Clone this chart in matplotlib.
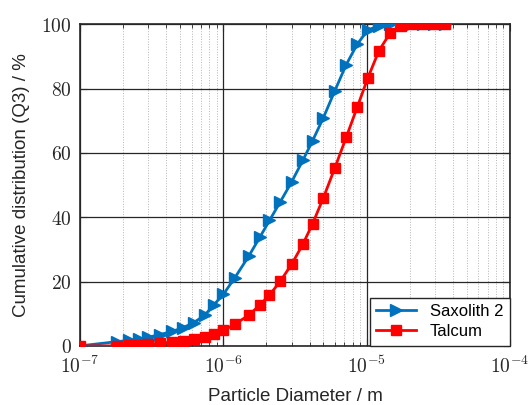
import numpy as np
import matplotlib
matplotlib.use("Agg")
import matplotlib.pyplot as plt
from matplotlib.ticker import LogLocator, FixedLocator, NullFormatter

# particle size classes (µm) and cumulative distribution Q3 (%)
diam_um = [0.10, 0.18, 0.22, 0.26, 0.30, 0.36, 0.44, 0.52, 0.62, 0.74, 0.86,
           1.00, 1.20, 1.50, 1.80, 2.10, 2.50, 3.00, 3.60, 4.20, 5.00, 6.00,
           7.20, 8.60, 10.2, 12.2, 14.6, 17.4, 20.6, 24.6, 29.4, 35.0]
saxolith = [0.0, 1.3, 1.7, 2.1, 2.7, 3.5, 4.5, 5.6, 7.2, 9.5, 12.8,
            16.0, 21.1, 27.8, 33.8, 39.0, 44.8, 51.0, 57.8, 63.8, 71.0, 79.3,
            87.4, 93.8, 98.2, 99.6, 100, 100, 100, 100, 100, 100]
talcum = [0.0, 0.0, 0.2, 0.3, 0.5, 0.8, 1.2, 1.6, 2.1, 2.8, 3.8,
          4.8, 6.7, 9.5, 12.7, 15.8, 20.1, 25.4, 31.7, 38.0, 46.1, 55.3,
          64.8, 74.2, 83.3, 91.8, 97.3, 99.6, 100, 100, 100, 100]
x_ticks = [1e-7, 1e-6, 1e-5, 1e-4]
x_ticklabels = [r"$10^{-7}$", r"$10^{-6}$", r"$10^{-5}$", r"$10^{-4}$"]
y_ticks = [0, 20, 40, 60, 80, 100]

plt.rcParams["mathtext.fontset"] = "cm"
d = np.array(diam_um) * 1e-6

fig = plt.figure(figsize=(5.3, 4.05), dpi=100)
ax = fig.add_axes([0.151, 0.146, 0.811, 0.794])

ax.plot(d, saxolith, color="#0072BD", lw=2, marker=">", ms=9, label="Saxolith 2", zorder=3)
ax.plot(d, talcum, color="#FF0000", lw=2, marker="s", ms=6.5, label="Talcum", zorder=4)

ax.set_xscale("log")
ax.set_xlim(1e-7, 1e-4)
ax.set_ylim(0, 100)
ax.xaxis.set_major_locator(FixedLocator(x_ticks))
ax.set_xticklabels(x_ticklabels)
ax.xaxis.set_minor_locator(LogLocator(base=10, subs=np.arange(2, 10), numticks=20))
ax.xaxis.set_minor_formatter(NullFormatter())
ax.set_yticks(y_ticks)
ax.set_yticklabels([r"$%d$" % v for v in y_ticks])

ax.tick_params(which="both", direction="in", top=True, right=True, labelsize=14,
               colors="#262626")
ax.tick_params(which="major", length=5)
ax.tick_params(which="minor", length=3)
ax.tick_params(axis="x", which="major", pad=7)
ax.tick_params(axis="y", which="major", pad=6)

ax.grid(True, which="major", color="#262626", lw=0.9)
ax.grid(True, which="minor", axis="x", color="#b5b5b5", lw=0.7, ls=":")
for s in ax.spines.values():
    s.set_color("#262626")
    s.set_linewidth(1.2)

ax.set_xlabel("Particle Diameter / m", fontsize=13.5, family="Liberation Sans",
              color="#262626", labelpad=8)
ax.set_ylabel("Cumulative distribution (Q3) / %", fontsize=13.5, family="Liberation Sans",
              color="#262626", labelpad=8)

leg = ax.legend(loc="lower right", prop={"family": "Liberation Sans", "size": 12},
                fancybox=False, edgecolor="#262626", framealpha=1, borderaxespad=0.0,
                handlelength=2.4, borderpad=0.4, labelspacing=0.3)
leg.get_frame().set_linewidth(1.0)

fig.savefig("out.png", dpi=100)
